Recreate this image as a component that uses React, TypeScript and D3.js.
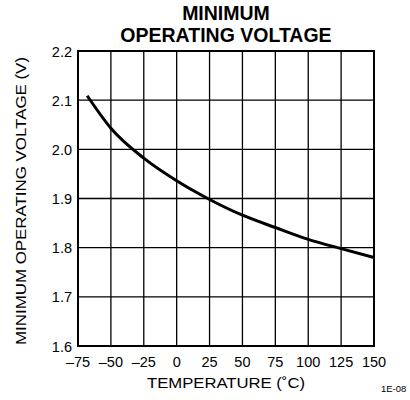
import React, { useEffect, useRef } from "react";
import * as d3 from "d3";

const temps = [-68, -50, -25, 0, 25, 50, 75, 100, 125, 150];
const volts = [2.109, 2.043, 1.982, 1.936, 1.898, 1.866, 1.841, 1.817, 1.798, 1.78];
const xTicks = [-75, -50, -25, 0, 25, 50, 75, 100, 125, 150];
const yTicks = [1.6, 1.7, 1.8, 1.9, 2.0, 2.1, 2.2];

const App = () => {
  const ref = useRef<SVGSVGElement>(null);

  useEffect(() => {
    const svg = d3.select(ref.current);
    svg.selectAll("*").remove();

    const margin = { top: 51, left: 78, right: 36, bottom: 54 };
    const width = 410 - margin.left - margin.right;
    const height = 400 - margin.top - margin.bottom;
    const font = "Arial, 'Liberation Sans', sans-serif";

    const x = d3.scaleLinear().domain([-75, 150]).range([0, width]);
    const y = d3.scaleLinear().domain([1.6, 2.2]).range([height, 0]);

    const g = svg
      .append("g")
      .attr("transform", "translate(" + margin.left + "," + margin.top + ")");

    // grid
    g.selectAll(".vline")
      .data(xTicks)
      .enter()
      .append("line")
      .attr("x1", (d) => x(d))
      .attr("x2", (d) => x(d))
      .attr("y1", 0)
      .attr("y2", height)
      .attr("stroke", "#000")
      .attr("stroke-width", 1.3);
    g.selectAll(".hline")
      .data(yTicks)
      .enter()
      .append("line")
      .attr("x1", 0)
      .attr("x2", width)
      .attr("y1", (d) => y(d))
      .attr("y2", (d) => y(d))
      .attr("stroke", "#000")
      .attr("stroke-width", 1.3);

    g.append("rect")
      .attr("width", width)
      .attr("height", height)
      .attr("fill", "none")
      .attr("stroke", "#000")
      .attr("stroke-width", 2);

    // tick labels
    g.selectAll(".xt")
      .data(xTicks)
      .enter()
      .append("text")
      .attr("x", (d) => x(d))
      .attr("y", height + 21)
      .attr("text-anchor", "middle")
      .attr("font-family", font)
      .attr("font-size", 14.5)
      .text((d) => (d < 0 ? "\u2013" + Math.abs(d) : String(d)));
    g.selectAll(".yt")
      .data(yTicks)
      .enter()
      .append("text")
      .attr("x", -6)
      .attr("y", (d) => y(d) + 5.5)
      .attr("text-anchor", "end")
      .attr("font-family", font)
      .attr("font-size", 14.5)
      .text((d) => d.toFixed(1));

    // curve
    const line = d3
      .line<number>()
      .x((d, i) => x(temps[i]))
      .y((d) => y(d))
      .curve(d3.curveMonotoneX);
    g.append("path")
      .attr("d", line(volts))
      .attr("fill", "none")
      .attr("stroke", "#000")
      .attr("stroke-width", 3);

    // titles
    const title = svg
      .append("text")
      .attr("text-anchor", "middle")
      .attr("font-family", font)
      .attr("font-size", 19.5)
      .attr("font-weight", "bold");
    title.append("tspan").attr("x", margin.left + width / 2).attr("y", 20).text("MINIMUM");
    title.append("tspan").attr("x", margin.left + width / 2).attr("y", 42).text("OPERATING VOLTAGE");

    svg
      .append("text")
      .attr("x", margin.left + width / 2)
      .attr("y", 388)
      .attr("text-anchor", "middle")
      .attr("font-family", font)
      .attr("font-size", 15)
      .attr("textLength", 158)
      .attr("lengthAdjust", "spacingAndGlyphs")
      .text("TEMPERATURE (\u02DAC)");

    svg
      .append("text")
      .attr("transform", "translate(26,201) rotate(-90)")
      .attr("text-anchor", "middle")
      .attr("font-family", font)
      .attr("font-size", 15)
      .attr("textLength", 288)
      .attr("lengthAdjust", "spacingAndGlyphs")
      .text("MINIMUM OPERATING VOLTAGE (V)");

    svg
      .append("text")
      .attr("x", 381)
      .attr("y", 392)
      .attr("font-family", font)
      .attr("font-size", 9.5)
      .text("1E-08");
  }, []);

  return (
    <div style={{ position: "absolute", left: 0, top: 0 }}>
      <svg ref={ref} width={410} height={400}></svg>
    </div>
  );
};

export default App;
